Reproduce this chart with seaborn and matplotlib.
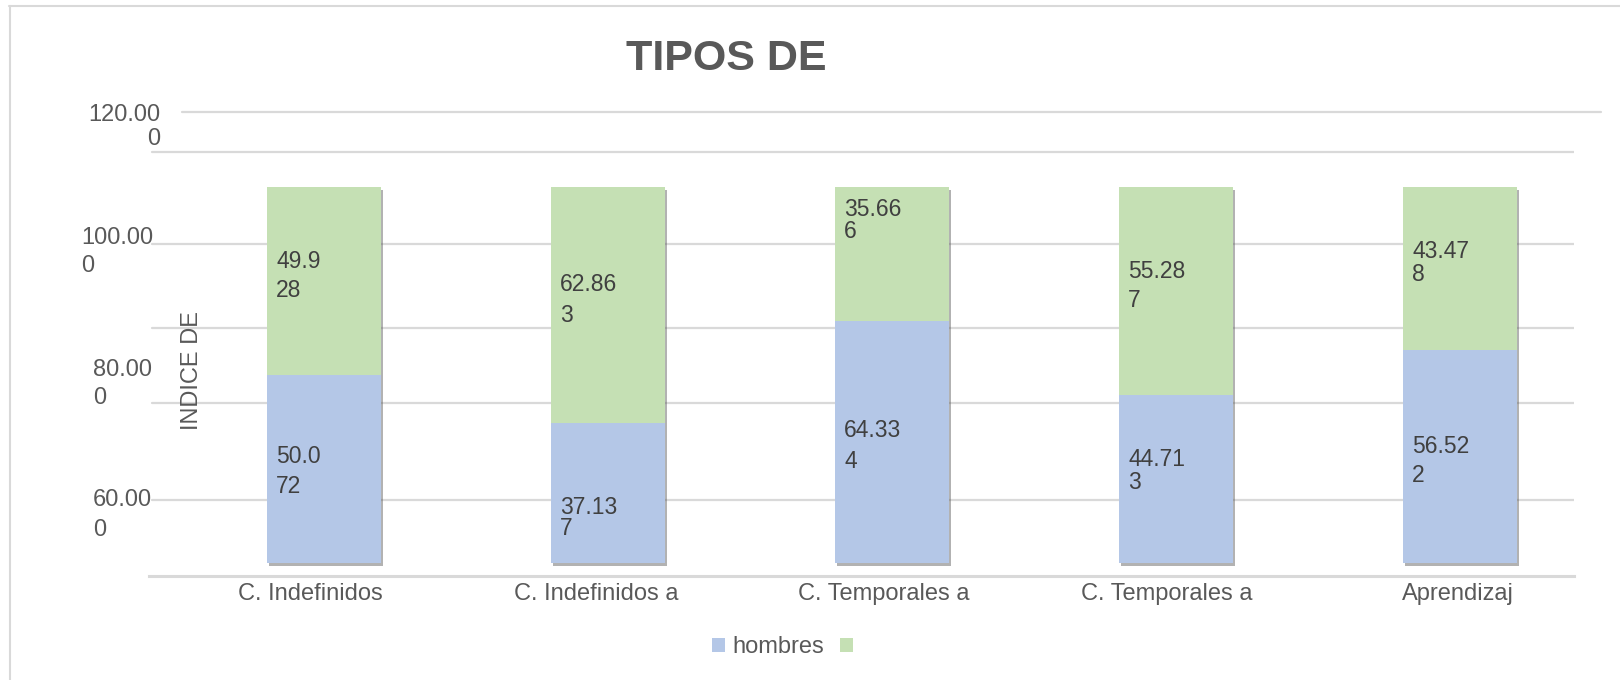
import matplotlib
matplotlib.use("Agg")
import matplotlib.pyplot as plt
import matplotlib.patheffects as pe
from matplotlib.patches import Patch
from matplotlib.lines import Line2D
from matplotlib.transforms import ScaledTranslation
import seaborn as sns
import pandas as pd

# ---------------- data ----------------
categories = ["C. Indefinidos", "C. Indefinidos a", "C. Temporales a",
              "C. Temporales a", "Aprendizaj"]
hombres = [50.072, 37.137, 64.334, 44.713, 56.522]
mujeres = [49.928, 62.863, 35.666, 55.287, 43.478]
series_names = ["hombres", ""]
y_tick_labels = ["120.00\n0", "100.00\n0", "80.00\n0", "60.00\n0"]
title_text = "TIPOS DE"
y_label_text = "INDICE DE"

# ---------------- style ----------------
sns.set_theme(style="white")
plt.rcParams["font.family"] = ["Liberation Sans", "DejaVu Sans"]

BLUE = "#B4C7E7"
GREEN = "#C5E0B4"
GRID = "#D9D9D9"
TXT = "#595959"
LBL = "#404040"

W, H = 1620, 680
fig = plt.figure(figsize=(W / 100, H / 100), dpi=100)


def fx(px):
    return px / W


def fy(py):
    return 1 - py / H


ax = fig.add_axes([fx(149), fy(576), (1574 - 149) / W, (576 - 112) / H])

df = pd.DataFrame({
    "idx": list(range(len(categories))),
    "hombres": hombres,
    "mujeres": mujeres,
})
df["total"] = df["hombres"] + df["mujeres"]

# stacked bars: total (green) below, hombres (blue) on top
sns.barplot(data=df, x="idx", y="total", color=GREEN, width=0.4,
            saturation=1, linewidth=0, ax=ax, zorder=3)
for p in ax.patches:
    p.set_path_effects([pe.SimplePatchShadow(offset=(1.5, -2.5), shadow_rgbFace="#555555", alpha=0.45),
                        pe.Normal()])
sns.barplot(data=df, x="idx", y="hombres", color=BLUE, width=0.4,
            saturation=1, linewidth=0, ax=ax, zorder=4)

ax.set_xlim(-0.616, 4.401)
ax.set_ylim(-3.457, 119.95)

# gridlines (chrome)
grid_levels = [109.3, 84.8, 62.5, 42.55, 16.76]
for lv in grid_levels:
    ax.axhline(lv, xmin=3 / 1425, xmax=1, color=GRID, lw=1.6, zorder=1)
fig.add_artist(Line2D([fx(182), fx(1601)], [fy(112), fy(112)],
                      transform=fig.transFigure, color=GRID, lw=1.6))

for s in ["top", "right", "left"]:
    ax.spines[s].set_visible(False)
ax.spines["bottom"].set_color(GRID)
ax.spines["bottom"].set_linewidth(2.2)
ax.set_yticks([])
ax.set_xlabel("")
ax.set_ylabel("")
ax.set_xticks(range(len(categories)))
ax.set_xticklabels(categories, fontsize=17, color=TXT)
ax.tick_params(axis="x", length=0, pad=5.3)
xlabel_shift_px = [-14, -12, -8, -9, -2]
for lab, off in zip(ax.get_xticklabels(), xlabel_shift_px):
    lab.set_transform(lab.get_transform() + ScaledTranslation(off / 100, 0, fig.dpi_scale_trans))

# data labels
brk_h = [4, 5, 5, 5, 5]
brk_m = [4, 5, 5, 5, 5]
dy_h = [2.6, 24.8, 4, -7.9, 4.3]
dy_m = [-4.9, -5.2, -33.5, -4.9, -5.7]
ls_h = [1.36, 0.9, 1.43, 1.03, 1.38]
ls_m = [1.36, 1.41, 0.95, 1.38, 1.03]
for i in range(len(categories)):
    xl = i - 0.2 + 9 / 284
    sh = f"{hombres[i]:.3f}"
    sm = f"{mujeres[i]:.3f}"
    th = sh[:brk_h[i]] + "\n" + sh[brk_h[i]:]
    tm = sm[:brk_m[i]] + "\n" + sm[brk_m[i]:]
    ax.annotate(th, xy=(xl, hombres[i] / 2), xytext=(0, -dy_h[i] * 0.72),
                textcoords="offset points", ha="left", va="center",
                fontsize=16.5, color=LBL, linespacing=ls_h[i], zorder=6)
    ax.annotate(tm, xy=(xl, hombres[i] + mujeres[i] / 2), xytext=(0, -dy_m[i] * 0.72),
                textcoords="offset points", ha="left", va="center",
                fontsize=16.5, color=LBL, linespacing=ls_m[i], zorder=6)

# y tick labels (as drawn in the reference)
fig.text(fx(160), fy(127), y_tick_labels[0], ha="right", va="center",
         fontsize=17, color=TXT, linespacing=1.15)
fig.text(fx(81), fy(252), y_tick_labels[1], ha="left", va="center",
         fontsize=17, color=TXT, linespacing=1.35)
fig.text(fx(93), fy(384), y_tick_labels[2], ha="left", va="center",
         fontsize=17, color=TXT, linespacing=1.39)
fig.text(fx(93), fy(515), y_tick_labels[3], ha="left", va="center",
         fontsize=17, color=TXT, linespacing=1.42)

# axis title
fig.text(fx(192), fy(371), y_label_text, rotation=90, ha="center", va="center",
         fontsize=17, color=TXT)

# chart title
fig.text(fx(726), fy(70), title_text, ha="center", va="baseline",
         fontsize=31, fontweight="bold", color=TXT)

# legend
handles = [Patch(facecolor=BLUE, edgecolor="none"),
           Patch(facecolor=GREEN, edgecolor="none")]
fig.legend(handles, series_names, loc="center left",
           bbox_to_anchor=(fx(712), fy(647)), ncol=2, frameon=False,
           fontsize=17, labelcolor=TXT, handlelength=0.55, handleheight=0.55,
           handletextpad=0.3, columnspacing=0.68, borderpad=0, borderaxespad=0)

# outer frame
fig.add_artist(Line2D([fx(9.5), fx(9.5)], [fy(6), fy(680)],
                      transform=fig.transFigure, color=GRID, lw=1.5))
fig.add_artist(Line2D([fx(9), fx(1620)], [fy(6), fy(6)],
                      transform=fig.transFigure, color=GRID, lw=1.5))

fig.savefig("out.png", dpi=100, facecolor="white")
